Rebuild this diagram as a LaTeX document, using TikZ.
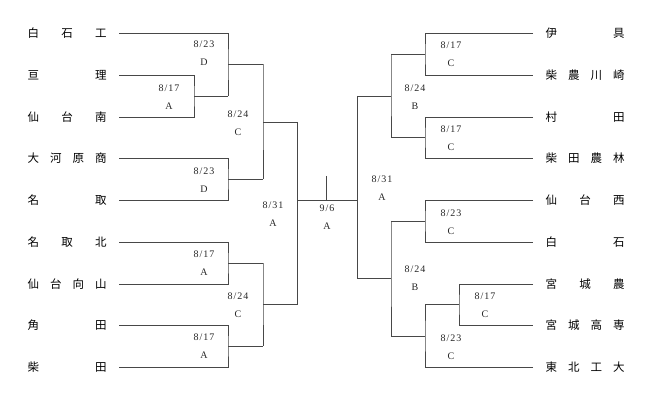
\documentclass[tikz,border=0pt]{standalone}
\usepackage{fontspec}
\setmainfont{Liberation Serif}
\newfontfamily\cjk{Noto Sans CJK JP}
\newfontfamily\lblfont[LetterSpace=10]{Liberation Serif}
\tikzset{
  br/.style={draw=black!72, line width=0.75pt},
  teamL/.style={anchor=west, inner sep=0pt, font=\cjk\fontsize{11.5}{12}\selectfont},
  teamR/.style={anchor=west, inner sep=0pt, font=\cjk\fontsize{11.5}{12}\selectfont},
  lbl/.style={align=center, inner sep=0pt, text=black!85, font=\lblfont\fontsize{10}{18}\selectfont}
}
\newcommand{\tm}[1]{\makebox[79pt]{#1}}
\begin{document}
\begin{tikzpicture}[x=1pt,y=-1pt]
\path[use as bounding box] (0,0) rectangle (654,401);
% left teams
\node[teamL] (t1) at (27.5,33)  {\tm{白\hfill 石\hfill 工}};
\node[teamL] (t2) at (27.5,75)  {\tm{亘\hfill 理}};
\node[teamL] (t3) at (27.5,117) {\tm{仙\hfill 台\hfill 南}};
\node[teamL] (t4) at (27.5,158) {\tm{大\hfill 河\hfill 原\hfill 商}};
\node[teamL] (t5) at (27.5,200) {\tm{名\hfill 取}};
\node[teamL] (t6) at (27.5,242) {\tm{名\hfill 取\hfill 北}};
\node[teamL] (t7) at (27.5,284) {\tm{仙\hfill 台\hfill 向\hfill 山}};
\node[teamL] (t8) at (27.5,325) {\tm{角\hfill 田}};
\node[teamL] (t9) at (27.5,367) {\tm{柴\hfill 田}};
% right teams
\node[teamR] (s1) at (545.5,33)  {\tm{伊\hfill 具}};
\node[teamR] (s2) at (545.5,75)  {\tm{柴\hfill 農\hfill 川\hfill 崎}};
\node[teamR] (s3) at (545.5,117) {\tm{村\hfill 田}};
\node[teamR] (s4) at (545.5,158) {\tm{柴\hfill 田\hfill 農\hfill 林}};
\node[teamR] (s5) at (545.5,200) {\tm{仙\hfill 台\hfill 西}};
\node[teamR] (s6) at (545.5,242) {\tm{白\hfill 石}};
\node[teamR] (s7) at (545.5,284) {\tm{宮\hfill 城\hfill 農}};
\node[teamR] (s8) at (545.5,325) {\tm{宮\hfill 城\hfill 高\hfill 専}};
\node[teamR] (s9) at (545.5,367) {\tm{東\hfill 北\hfill 工\hfill 大}};
% left leaf coordinates
\coordinate (l1) at (119,33);  \coordinate (l2) at (119,75);
\coordinate (l3) at (119,117); \coordinate (l4) at (119,158);
\coordinate (l5) at (119,200); \coordinate (l6) at (119,242);
\coordinate (l7) at (119,284); \coordinate (l8) at (119,325);
\coordinate (l9) at (119,367);
% right leaf coordinates
\coordinate (r1) at (533,33);  \coordinate (r2) at (533,75);
\coordinate (r3) at (533,117); \coordinate (r4) at (533,158);
\coordinate (r5) at (533,200); \coordinate (r6) at (533,242);
\coordinate (r7) at (533,284); \coordinate (r8) at (533,325);
\coordinate (r9) at (533,367);
% left junctions
\coordinate (ja) at (194,96);    \coordinate (oa) at (228,96);
\coordinate (jb) at (228,64.5);  \coordinate (ob) at (263,64.5);
\coordinate (jc) at (228,179);   \coordinate (oc) at (263,179);
\coordinate (jd) at (263,122);   \coordinate (od) at (297,122);
\coordinate (je) at (228,263);   \coordinate (oe) at (263,263);
\coordinate (jf) at (228,346);   \coordinate (of) at (263,346);
\coordinate (jg) at (263,304.5); \coordinate (og) at (297,304.5);
\coordinate (jh) at (297,200);
% right junctions
\coordinate (jp) at (425,54);    \coordinate (op) at (391,54);
\coordinate (jq) at (425,137.5); \coordinate (oq) at (391,137.5);
\coordinate (js) at (391,96);    \coordinate (os) at (357,96);
\coordinate (jt) at (425,221);   \coordinate (ot) at (391,221);
\coordinate (ju) at (459,304.5); \coordinate (ou) at (425,304.5);
\coordinate (jv) at (425,336);   \coordinate (ov) at (391,336);
\coordinate (jw) at (391,278.5); \coordinate (ow) at (357,278.5);
\coordinate (jr) at (357,200);
\coordinate (fin) at (326,200);  \coordinate (fintop) at (326,176);
% left bracket
\draw[br] (l2) -| (ja) |- (l3);  \draw[br] (ja) -- (oa);
\draw[br] (l1) -| (jb) |- (oa);  \draw[br] (jb) -- (ob);
\draw[br] (l4) -| (jc) |- (l5);  \draw[br] (jc) -- (oc);
\draw[br] (ob) -| (jd) |- (oc);  \draw[br] (jd) -- (od);
\draw[br] (l6) -| (je) |- (l7);  \draw[br] (je) -- (oe);
\draw[br] (l8) -| (jf) |- (l9);  \draw[br] (jf) -- (of);
\draw[br] (oe) -| (jg) |- (of);  \draw[br] (jg) -- (og);
\draw[br] (od) -- (og);
% right bracket
\draw[br] (r1) -| (jp) |- (r2);  \draw[br] (jp) -- (op);
\draw[br] (r3) -| (jq) |- (r4);  \draw[br] (jq) -- (oq);
\draw[br] (op) -| (js) |- (oq);  \draw[br] (js) -- (os);
\draw[br] (r5) -| (jt) |- (r6);  \draw[br] (jt) -- (ot);
\draw[br] (r7) -| (ju) |- (r8);  \draw[br] (ju) -- (ou);
\draw[br] (r9) -| (jv) |- (ou);  \draw[br] (jv) -- (ov);
\draw[br] (ot) -| (jw) |- (ov);  \draw[br] (jw) -- (ow);
\draw[br] (os) -- (ow);
% final
\draw[br] (jh) -- (jr);
\draw[br] (fintop) -- (fin);
% labels left
\node[lbl] (La) at (169,97)  {8/17\\A};
\node[lbl] (Lb) at (204,53)  {8/23\\D};
\node[lbl] (Lc) at (204,180) {8/23\\D};
\node[lbl] (Ld) at (238,123) {8/24\\C};
\node[lbl] (Le) at (204,263) {8/17\\A};
\node[lbl] (Lf) at (204,346) {8/17\\A};
\node[lbl] (Lg) at (238,305) {8/24\\C};
\node[lbl] (Lh) at (273,214) {8/31\\A};
\node[lbl] (Lz) at (327,217) {9/6\\A};
% labels right
\node[lbl] (Rp) at (451,54.5)  {8/17\\C};
\node[lbl] (Rq) at (451,138)   {8/17\\C};
\node[lbl] (Rs) at (415,97)    {8/24\\B};
\node[lbl] (Rr) at (382,188.5) {8/31\\A};
\node[lbl] (Rt) at (451,222)   {8/23\\C};
\node[lbl] (Ru) at (485,305)   {8/17\\C};
\node[lbl] (Rv) at (451,347)   {8/23\\C};
\node[lbl] (Rw) at (415,278.5) {8/24\\B};
\end{tikzpicture}
\end{document}
